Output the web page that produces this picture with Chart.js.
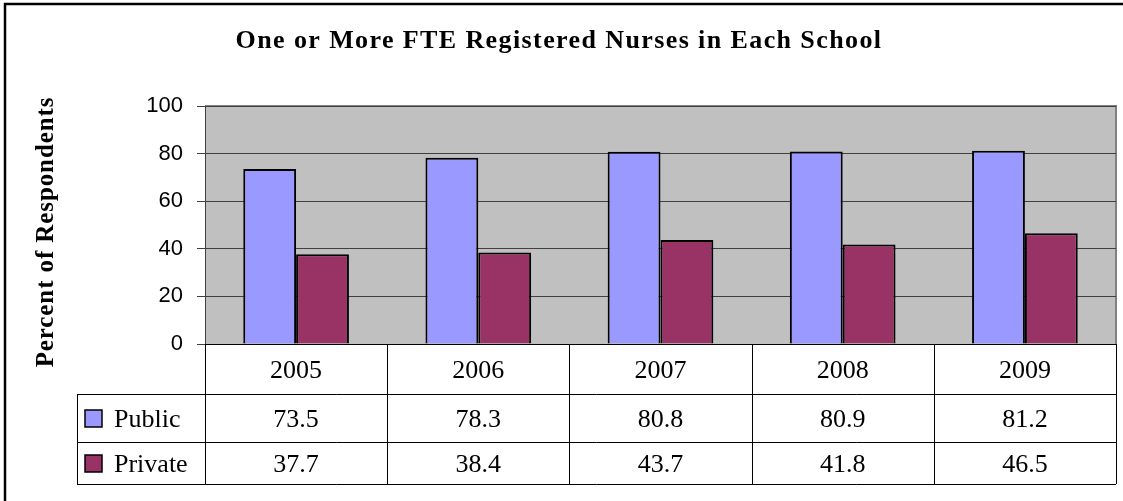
<!DOCTYPE html>
<html>
<head>
<meta charset="utf-8">
<script src="https://cdn.jsdelivr.net/npm/chart.js@4"></script>
<style>
  html, body { margin: 0; padding: 0; background: #fff; }
  #wrap { width: 1123px; height: 501px; }
</style>
</head>
<body>
<div id="wrap"><canvas id="grafico" width="1123" height="501"></canvas></div>
<script>
// dados do gráfico
const anos = ['2005', '2006', '2007', '2008', '2009'];
const publico = [73.5, 78.3, 80.8, 80.9, 81.2];
const privado = [37.7, 38.4, 43.7, 41.8, 46.5];
const series = ['Public', 'Private'];
const ticksY = [0, 20, 40, 60, 80, 100];

const corPublico = '#9999FF';
const corPrivado = '#993366';
const serif = "'Liberation Serif', 'Times New Roman', serif";
const sans = "'Liberation Sans', Arial, sans-serif";

// fundo cinza da área de plotagem + moldura externa
const fundoPlugin = {
  id: 'fundo',
  beforeDraw(chart) {
    const { ctx, chartArea: a } = chart;
    ctx.save();
    ctx.fillStyle = '#C0C0C0';
    ctx.fillRect(a.left, a.top, a.right - a.left, a.bottom - a.top);
    ctx.strokeStyle = '#808080';
    ctx.lineWidth = 2;
    ctx.beginPath();
    ctx.moveTo(a.left, a.top);
    ctx.lineTo(a.right, a.top);
    ctx.lineTo(a.right, a.bottom);
    ctx.stroke();
    // moldura (só esquerda e topo aparecem)
    ctx.strokeStyle = '#000';
    ctx.lineWidth = 2.5;
    ctx.beginPath();
    ctx.moveTo(5, 501);
    ctx.lineTo(5, 4);
    ctx.lineTo(1123, 4);
    ctx.stroke();
    ctx.restore();
  }
};

// títulos e tabela de dados
const tabelaPlugin = {
  id: 'tabela',
  afterDraw(chart) {
    const { ctx, chartArea: a } = chart;
    const xs = chart.scales.x;
    const n = anos.length;
    const larg = (a.right - a.left) / n;
    const yTopo = a.bottom, yCab = 394, yLin1 = 442, yFim = 484, xEsq = 77;

    ctx.save();
    // título
    ctx.fillStyle = '#000';
    ctx.font = 'bold 26px ' + serif;
    ctx.letterSpacing = '1.4px';
    ctx.textAlign = 'center';
    ctx.textBaseline = 'middle';
    ctx.fillText('One or More FTE Registered Nurses in Each School', 559, 41);

    // título do eixo y
    ctx.save();
    ctx.translate(47, 232);
    ctx.rotate(-Math.PI / 2);
    ctx.font = 'bold 25px ' + serif;
    ctx.letterSpacing = '0.9px';
    ctx.fillText('Percent of Respondents', 0, 0);
    ctx.restore();
    ctx.letterSpacing = '0px';

    // linhas da tabela
    ctx.strokeStyle = '#000';
    ctx.lineWidth = 1;
    ctx.beginPath();
    for (let i = 0; i <= n; i++) {
      const x = Math.round(a.left + i * larg) + 0.5;
      ctx.moveTo(x, yTopo);
      ctx.lineTo(x, yFim);
    }
    [yCab, yLin1, yFim].forEach(y => {
      ctx.moveTo(xEsq, y + 0.5);
      ctx.lineTo(a.right, y + 0.5);
    });
    ctx.moveTo(xEsq + 0.5, yCab);
    ctx.lineTo(xEsq + 0.5, yFim);
    ctx.moveTo(a.left, yTopo + 0.5);
    ctx.lineTo(a.right, yTopo + 0.5);
    ctx.stroke();

    // textos
    ctx.font = '26px ' + serif;
    ctx.textAlign = 'center';
    anos.forEach((ano, i) => {
      const x = xs.getPixelForValue(i);
      ctx.fillText(ano, x, (yTopo + yCab) / 2 + 2);
      ctx.fillText(publico[i].toFixed(1), x, (yCab + yLin1) / 2 + 2);
      ctx.fillText(privado[i].toFixed(1), x, (yLin1 + yFim) / 2 + 2);
    });

    // legenda
    const linhas = [[yCab, yLin1], [yLin1, yFim]];
    series.forEach((nome, k) => {
      const yc = (linhas[k][0] + linhas[k][1]) / 2;
      ctx.fillStyle = chart.data.datasets[k].backgroundColor;
      ctx.fillRect(85, yc - 8, 17, 17);
      ctx.strokeStyle = '#000';
      ctx.lineWidth = 1.5;
      ctx.strokeRect(85, yc - 8, 17, 17);
      ctx.fillStyle = '#000';
      ctx.textAlign = 'left';
      ctx.fillText(nome, 114, yc + 2);
    });
    ctx.restore();
  }
};

new Chart(document.getElementById('grafico'), {
  type: 'bar',
  data: {
    labels: anos,
    datasets: [{
      label: series[0],
      data: publico,
      backgroundColor: corPublico,
      borderColor: '#000',
      borderWidth: 2
    }, {
      label: series[1],
      data: privado,
      backgroundColor: corPrivado,
      borderColor: '#000',
      borderWidth: 2
    }]
  },
  options: {
    responsive: false,
    animation: false,
    layout: {
      padding: { left: 0, top: 106, right: 7, bottom: 157 }
    },
    datasets: {
      bar: { categoryPercentage: 0.58, barPercentage: 1 }
    },
    scales: {
      x: { display: false },
      y: {
        min: 0,
        max: 100,
        afterFit(scale) { scale.width = 205; },
        afterBuildTicks(scale) { scale.ticks = ticksY.map(v => ({ value: v })); },
        grid: { color: '#404040', lineWidth: 1, tickLength: 8 },
        border: { color: '#404040', width: 1 },
        ticks: {
          padding: 14,
          color: '#000',
          font: { family: sans, size: 22 }
        }
      }
    },
    plugins: {
      legend: { display: false },
      title: { display: false },
      tooltip: { enabled: false }
    }
  },
  plugins: [fundoPlugin, tabelaPlugin]
});
</script>
</body>
</html>
